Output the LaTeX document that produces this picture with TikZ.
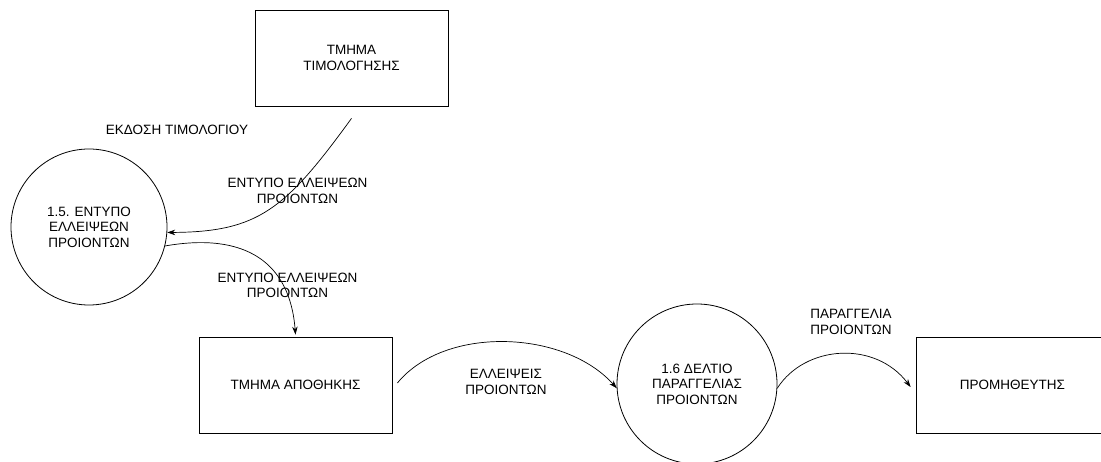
\documentclass[tikz,border=0pt]{standalone}
\usepackage{fontspec}
\setmainfont{Liberation Sans}
\usetikzlibrary{arrows.meta,calc}
\begin{document}
\begin{tikzpicture}[x=1pt,y=-1pt,
  font=\fontsize{13.5}{15.5}\selectfont,
  entity/.style={draw, line width=0.8pt, minimum width=193pt, minimum height=96pt,
                 inner sep=0pt, align=center},
  process/.style={draw, circle, line width=0.8pt, minimum size=156pt,
                  inner sep=0pt, align=center},
  flow/.style={draw, line width=0.7pt, -{Stealth[length=8pt,width=5.5pt]}},
  lbl/.style={align=center, inner sep=0pt}]
\useasboundingbox (0,0) rectangle (1101,462);
\clip (0,0) rectangle (1101,462);

% external entities
\node[entity] (bT) at (351.5,58)   {ΤΜΗΜΑ\\ΤΙΜΟΛΟΓΗΣΗΣ};
\node[entity] (bA) at (295.5,385)  {ΤΜΗΜΑ ΑΠΟΘΗΚΗΣ};
\node[entity] (bP) at (1012.5,385) {ΠΡΟΜΗΘΕΥΤΗΣ};

% processes
\node[process] (c15) at (89,227) {1.5. ΕΝΤΥΠΟ\\ΕΛΛΕΙΨΕΩΝ\\ΠΡΟΙΟΝΤΩΝ};
\node[process, minimum size=160pt] (c16) at (697,384) {1.6 ΔΕΛΤΙΟ\\ΠΑΡΑΓΓΕΛΙΑΣ\\ΠΡΟΙΟΝΤΩΝ};

% data flows
\draw[flow] ($(bT.south)+(0,12)$) .. controls (285,210) and (258,232) .. (c15.-4);
\draw[flow] (c15.-14) .. controls (245,232) and (290,262) .. ($(bA.north)+(0,-2)$);
\draw[flow] ($(bA.east)+(5,-2)$) .. controls (445,325) and (565,330) .. (c16.183);
\draw[flow] (c16.-3) .. controls (805,345) and (875,340) .. ($(bP.west)+(-5,2)$);

% flow labels
\node[lbl] (tEkd) at (177,130)     {ΕΚΔΟΣΗ ΤΙΜΟΛΟΓΙΟΥ};
\node[lbl] (tF1)  at (297.5,191)   {ΕΝΤΥΠΟ ΕΛΛΕΙΨΕΩΝ\\ΠΡΟΙΟΝΤΩΝ};
\node[lbl] (tF2)  at (287.5,285.5) {ΕΝΤΥΠΟ ΕΛΛΕΙΨΕΩΝ\\ΠΡΟΙΟΝΤΩΝ};
\node[lbl] (tF3)  at (506,382)     {ΕΛΛΕΙΨΕΙΣ\\ΠΡΟΙΟΝΤΩΝ};
\node[lbl] (tF4)  at (851,322)     {ΠΑΡΑΓΓΕΛΙΑ\\ΠΡΟΙΟΝΤΩΝ};
\end{tikzpicture}
\end{document}
